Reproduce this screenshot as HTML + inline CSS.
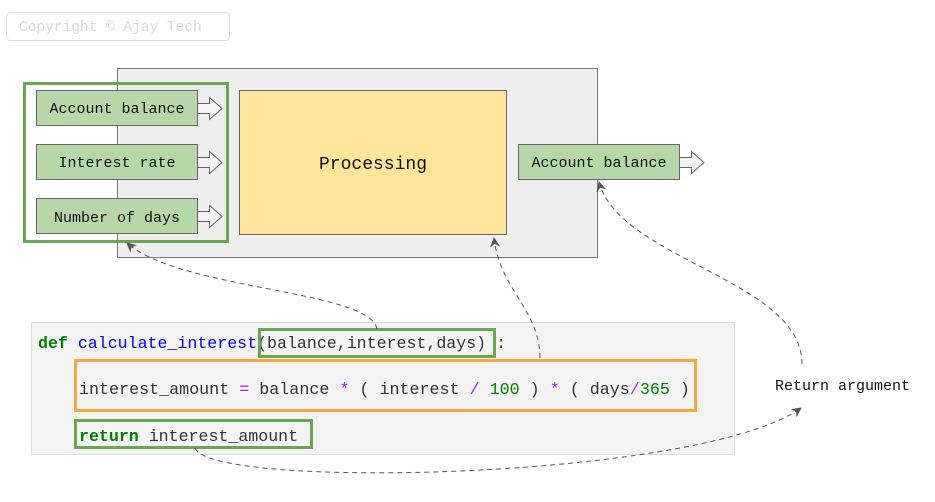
<!DOCTYPE html>
<html><head><meta charset="utf-8">
<style>
html,body{margin:0;padding:0;background:#fff;}
svg{display:block;}
text{font-family:"Liberation Mono","DejaVu Sans Mono",monospace;}
</style></head>
<body>
<svg width="935" height="502" viewBox="0 0 935 502" xmlns="http://www.w3.org/2000/svg">
<defs>
<marker id="ah" markerWidth="10" markerHeight="10" refX="9" refY="5" orient="auto" markerUnits="userSpaceOnUse">
<path d="M0,0 L10,5 L0,10 L3,5 Z" fill="#555"/>
</marker>
</defs>
<rect x="6.5" y="12.5" width="223" height="28" rx="4" fill="#fff" stroke="#ddd"/>
<text x="19" y="31" font-size="14.5" fill="#d8d8d8">Copyright © Ajay Tech</text>

<rect x="117.5" y="68.5" width="480" height="189" fill="#eeeeee" stroke="#777"/>
<rect x="24.5" y="83.5" width="203" height="158" fill="none" stroke="#6aa84f" stroke-width="3"/>

<g font-size="15" fill="#111" text-anchor="middle">
<rect x="36.5" y="90.5" width="161" height="35" fill="#b6d7a8" stroke="#666"/>
<text x="117" y="113">Account balance</text>
<rect x="36.5" y="144.5" width="161" height="35" fill="#b6d7a8" stroke="#666"/>
<text x="117" y="167">Interest rate</text>
<rect x="36.5" y="198.5" width="161" height="35" fill="#b6d7a8" stroke="#666"/>
<text x="117" y="222">Number of days</text>
<rect x="518.5" y="144.5" width="161" height="35" fill="#b6d7a8" stroke="#666"/>
<text x="599" y="167">Account balance</text>
</g>
<g fill="#f3f3f3" stroke="#666">
<path d="M197.5,103.5 h12 v-6 l12.5,11 l-12.5,11 v-6 h-12 z"/>
<path d="M197.5,157.5 h12 v-6 l12.5,11 l-12.5,11 v-6 h-12 z"/>
<path d="M197.5,211.5 h12 v-6 l12.5,11 l-12.5,11 v-6 h-12 z"/>
<path d="M679.5,157.5 h12 v-6 l12.5,11 l-12.5,11 v-6 h-12 z"/>
</g>

<rect x="239.5" y="90.5" width="267" height="144" fill="#ffe599" stroke="#666"/>
<text x="373" y="169" font-size="18" text-anchor="middle" fill="#111">Processing</text>

<rect x="31.5" y="322.5" width="703" height="132" fill="#f3f3f3" stroke="#ddd"/>
<text x="38" y="348" font-size="16.6" fill="#333"><tspan fill="#008000" font-weight="bold">def</tspan> <tspan fill="#0000ff">calculate_interest</tspan>(balance,interest,days) :</text>
<rect x="259.5" y="329.5" width="235" height="27" fill="none" stroke="#6aa84f" stroke-width="3"/>
<rect x="75.5" y="360.5" width="620" height="50" fill="none" stroke="#f6a93b" stroke-width="3"/>
<text x="79" y="394" font-size="16.7" fill="#333">interest_amount <tspan fill="#aa22ff">=</tspan> balance <tspan fill="#aa22ff">*</tspan> ( interest <tspan fill="#aa22ff">/</tspan> <tspan fill="#008000">100</tspan> ) <tspan fill="#aa22ff">*</tspan> ( days<tspan fill="#aa22ff">/</tspan><tspan fill="#008000">365</tspan> )</text>
<rect x="75.5" y="420.5" width="236" height="27" fill="none" stroke="#6aa84f" stroke-width="3"/>
<text x="79" y="441" font-size="16.6" fill="#333"><tspan fill="#008000" font-weight="bold">return</tspan> interest_amount</text>

<text x="775" y="390" font-size="15" fill="#111">Return argument</text>

<g fill="none" stroke="#555" stroke-dasharray="5,4" stroke-width="1">
<path d="M377,329 C370,290 180,290 127,243" marker-end="url(#ah)"/>
<path d="M540,358 C540,310 500,290 494,238" marker-end="url(#ah)"/>
<path d="M802,364 C802,280 620,260 599,182" marker-end="url(#ah)"/>
<path d="M195,448 C210,490 700,480 801,408" marker-end="url(#ah)"/>
</g>
</svg>
</body></html>
